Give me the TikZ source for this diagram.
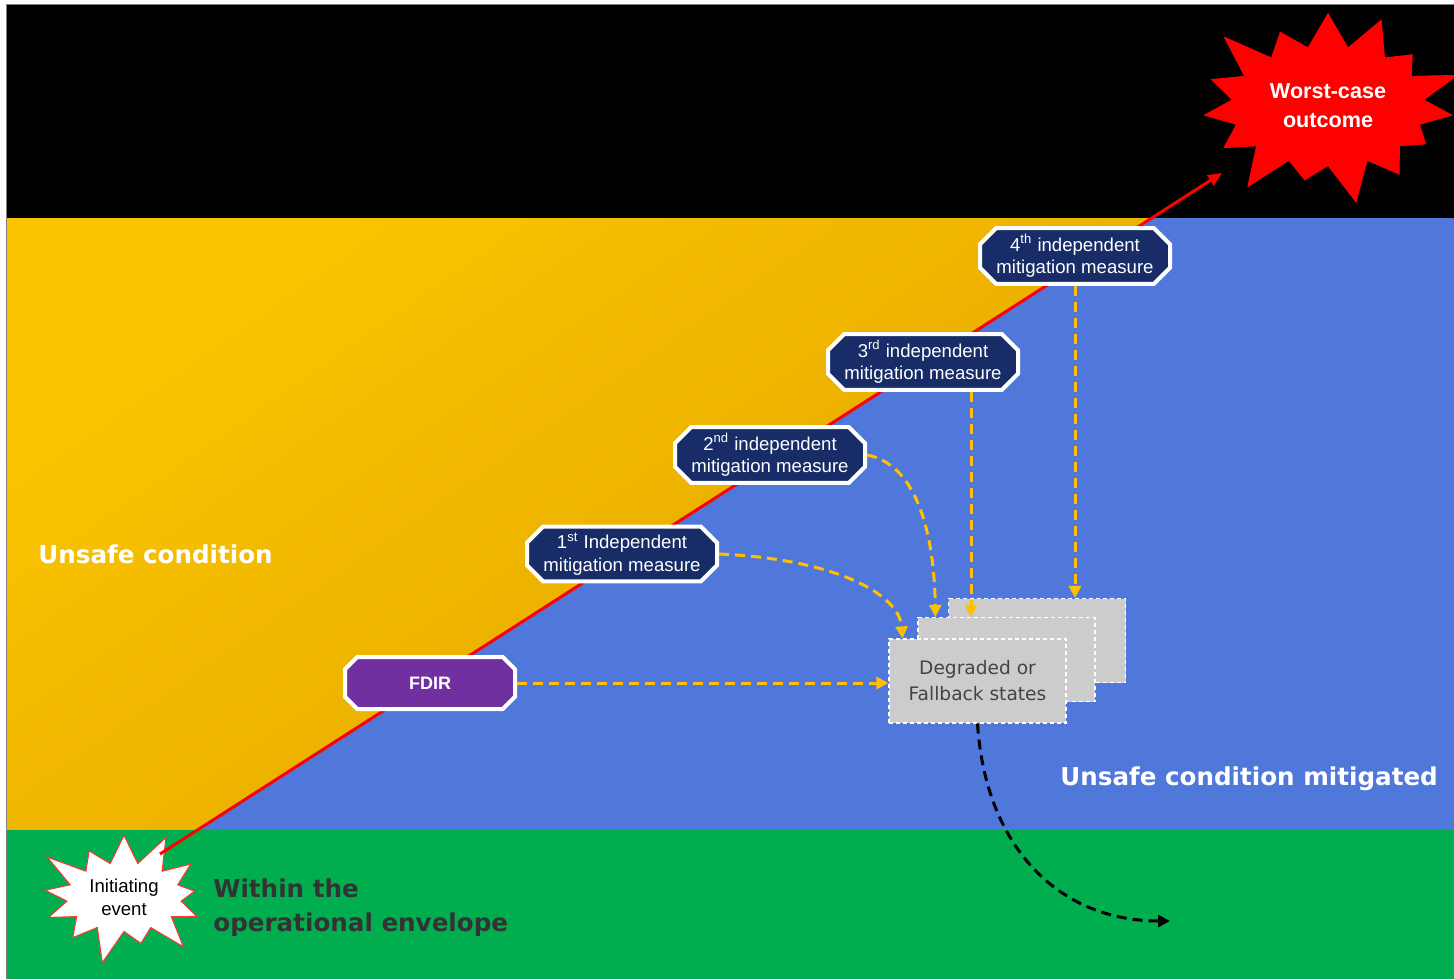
\documentclass[tikz,border=0pt]{standalone}
\usepackage{fontspec}
\setmainfont{Liberation Sans}
\newfontfamily\dvs{DejaVu Sans}
\usetikzlibrary{shapes.misc,shapes.symbols,arrows.meta,calc}
\definecolor{orlight}{RGB}{250,196,0}
\definecolor{ormid}{RGB}{236,176,0}
\definecolor{ordark}{RGB}{222,158,0}
\definecolor{skyblue}{RGB}{80,120,218}
\definecolor{envgreen}{RGB}{0,174,80}
\definecolor{navy}{RGB}{24,45,104}
\definecolor{fdirpurple}{RGB}{112,48,160}
\definecolor{ambar}{RGB}{255,192,0}
\definecolor{boxgray}{RGB}{204,204,204}
\definecolor{darktext}{RGB}{51,51,51}
\definecolor{boxtext}{RGB}{68,68,68}
\tikzset{
  octo/.style={chamfered rectangle, chamfered rectangle xsep=5pt, chamfered rectangle ysep=3pt,
    minimum width=95pt, minimum height=26pt, draw=white, line width=2pt, fill=navy,
    text=white, font=\fontsize{9.3}{11.3}\selectfont, align=center, inner sep=0pt},
  gbox/.style={rectangle, fill=boxgray, draw=white, dash pattern=on 2pt off 1.5pt,
    line width=0.6pt, minimum width=88.5pt, minimum height=42pt, inner sep=0pt},
  yarrow/.style={draw=ambar, line width=1.5pt, dash pattern=on 5pt off 3pt,
    -{Triangle[length=6pt,width=6pt]}},
  karrow/.style={draw=black, line width=1.5pt, dash pattern=on 5pt off 3pt,
    -{Triangle[length=6pt,width=6pt]}},
  biglabel/.style={font=\dvs\bfseries\fontsize{12.3}{17}\selectfont, inner sep=0pt, anchor=west},
}
\begin{document}
\begin{tikzpicture}[x=0.5pt,y=-0.5pt]
\useasboundingbox (0,0) rectangle (1454,979);
\fill[white] (0,0) rectangle (1454,979);
% bands
\fill[black] (6,5) rectangle (1454,218);
\shade[top color=orlight, bottom color=ordark, shading angle=35] (6,218) rectangle (1454,830);
\fill[skyblue] (197.4,830) -- (1152,218) -- (1454,218) -- (1454,830) -- cycle;
\fill[envgreen] (6,830) rectangle (1454,979);
\draw[gray, line width=0.5pt] (6,979) -- (6,5) -- (1454,5);
% labels
\node[biglabel, text=white] (uc) at (38,554) {Unsafe condition};
\node[biglabel, text=white] (ucm) at (1060,779) {Unsafe condition mitigated};
\node[biglabel, text=darktext, align=left] (env) at (213,908) {Within the\\operational envelope};
% stars
\node[starburst, starburst points=15, starburst point height=23pt, fill=red, draw=red,
  text=white, font=\bfseries\fontsize{10.8}{14.5}\selectfont, align=center,
  inner xsep=5pt, inner ysep=10pt]
  (worst) at (1328,106) {Worst-case\\outcome};
\node[starburst, starburst points=13, starburst point height=19pt, fill=white, draw=red!80,
  line width=0.5pt, font=\fontsize{9.3}{11.5}\selectfont, align=center, inner sep=3pt]
  (init) at (124,897) {Initiating\\event};
% red line
\coordinate (rs) at (160,854);
\coordinate (re) at (1222,173);
\draw[red, line width=1.5pt, -{Triangle[length=7pt,width=6pt]}] (rs) -- (re);
% measures
\node[octo] (n4) at (1075,256) {4\textsuperscript{th} independent\\mitigation measure};
\node[octo] (n3) at (923,362) {3\textsuperscript{rd} independent\\mitigation measure};
\node[octo] (n2) at (770,455) {2\textsuperscript{nd} independent\\mitigation measure};
\node[octo] (n1) at (622,554) {1\textsuperscript{st} Independent\\mitigation measure};
\node[octo, fill=fdirpurple, minimum width=85pt, font=\bfseries\fontsize{9}{11}\selectfont] (fdir) at (430,683) {FDIR};
% boxes
\node[gbox] (bb) at (1037,640.5) {};
\node[gbox] (mb) at (1006.5,659.5) {};
\node[gbox, text=boxtext, font=\dvs\fontsize{9.3}{13}\selectfont, align=center] (fb) at (977.5,681) {Degraded or\\Fallback states};
% arrows
\coordinate (t1) at ($(fb.north west)+(14,0)$);
\coordinate (t2) at ($(mb.north west)+(18,0)$);
\coordinate (s3) at ($(n3.south)+(48,0)$);
\coordinate (bend) at (1170,921);
\draw[yarrow] (fdir.east) -- (fdir.east -| fb.west);
\draw[yarrow] (n1.east) .. controls +(115,5) and +(-3,-45) .. (t1);
\draw[yarrow] (n2.east) .. controls +(53,10) and +(-1,-75) .. (t2);
\draw[yarrow] (s3) -- (s3 |- mb.north);
\draw[yarrow] (n4.south) -- (n4.south |- bb.north);
\draw[karrow] (fb.south) .. controls +(8,125) and +(-110,0) .. (bend);
\end{tikzpicture}
\end{document}
